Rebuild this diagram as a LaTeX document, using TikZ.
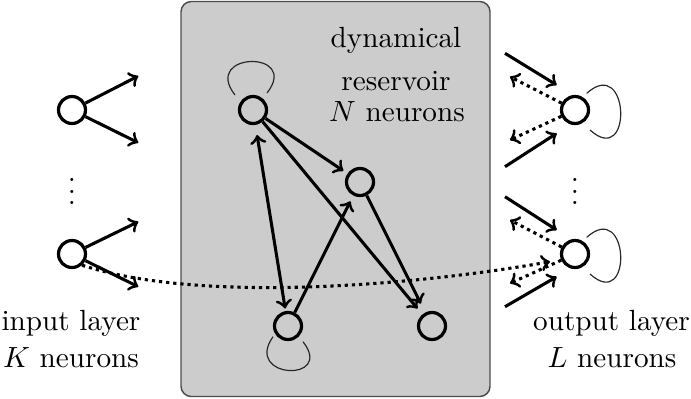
\documentclass[tikz,border=0pt]{standalone}
\usetikzlibrary{calc}
\begin{document}
\begin{tikzpicture}[x=0.3425pt,y=0.3425pt,
  neuron/.style={circle,draw,line width=1.1pt,minimum size=9.25pt,inner sep=0pt},
  conn/.style={line width=1.05pt,->,>=to},
  fb/.style={line width=1.05pt,->,>=to,dash pattern=on 1.1pt off 1.35pt},
  selfloop/.style={line width=0.4pt,black!85},
  lbl/.style={anchor=base,inner sep=0pt}]
\useasboundingbox (0,0) rectangle (691,398);
% reservoir box
\draw[fill=black!20,draw=black!70,line width=0.5pt,rounded corners=3.5pt] (181,1.5) rectangle (490,396.5);
% neurons
\node[neuron] (in1) at (72,288) {};
\node[neuron] (in2) at (72,144) {};
\node[neuron] (A) at (253,288) {};
\node[neuron] (B) at (360,216) {};
\node[neuron] (C) at (288,72) {};
\node[neuron] (D) at (432,72) {};
\node[neuron] (O1) at (575,288) {};
\node[neuron] (O2) at (575,144) {};
\node (vd1) at (72,215) {$\vdots$};
\node (vd2) at (575,215) {$\vdots$};
% free ends
\coordinate (i1a) at (138.3,322);
\coordinate (i1b) at (138.3,255.3);
\coordinate (i2a) at (138.3,176.3);
\coordinate (i2b) at (138.3,111.3);
\coordinate (s1a) at (505,344.7);
\coordinate (t1a) at (556.7,313);
\coordinate (s1b) at (505,231.3);
\coordinate (t1b) at (556.7,264.7);
\coordinate (f1a) at (510,321.3);
\coordinate (f1b) at (510,258);
\coordinate (s2a) at (505,201.3);
\coordinate (t2a) at (556.7,168);
\coordinate (f2a) at (510,178);
\coordinate (f2b) at (510,114.7);
\coordinate (s2b) at (505,91.3);
\coordinate (t2b) at (556.7,121.3);
\coordinate (dc) at (550,136.3);
% input connections
\draw[conn] (in1) -- (i1a);
\draw[conn] (in1) -- (i1b);
\draw[conn] (in2) -- (i2a);
\draw[conn] (in2) -- (i2b);
% reservoir connections
\draw[conn,shorten >=1.7pt] (A) -- (B);
\draw[conn,shorten >=2.6pt] (A) -- (D);
\draw[conn,shorten >=3.4pt] (B) -- (D);
\draw[conn,<->,shorten <=3.5pt,shorten >=0.9pt] (A) -- (C);
\draw[conn,shorten >=2.2pt] (C) -- (B);
% output connections
\draw[conn] (s1a) -- (t1a);
\draw[conn] (s1b) -- (t1b);
\draw[fb] (O1) -- (f1a);
\draw[fb] (O1) -- (f1b);
\draw[conn] (s2a) -- (t2a);
\draw[fb] (O2) -- (f2a);
\draw[fb] (O2) -- (f2b);
\draw[conn] (s2b) -- (t2b);
% dotted input to output
\draw[fb] (in2.-48) to[out=-18,in=190,looseness=0.7] (dc);
% self loops
\draw[selfloop] ([shift={(-18,15)}]A.center) .. controls +(128:55) and +(52:55) .. ([shift={(14,17)}]A.center);
\draw[selfloop] ([shift={(-15,-10.7)}]C.center) .. controls +(235:52) and +(-52:52) .. ([shift={(15,-15.7)}]C.center);
\draw[selfloop] ([shift={(11.7,16.7)}]O1.center) .. controls +(42:58) and +(-42:58) .. ([shift={(15,-20)}]O1.center);
\draw[selfloop] ([shift={(11.7,16.7)}]O2.center) .. controls +(42:58) and +(-42:58) .. ([shift={(15,-20)}]O2.center);
% labels
\node[lbl] (res1) at (396,351) {dynamical};
\node[lbl] (res2) at (396,307.5) {reservoir};
\node[lbl] (res3) at (397,276.3) {$N$ neurons};
\node[lbl] (inl1) at (71,68) {input layer};
\node[lbl] (inl2) at (71,31) {$K$ neurons};
\node[lbl] (outl1) at (611.5,68) {output layer};
\node[lbl] (outl2) at (612,31) {$L$ neurons};
\end{tikzpicture}
\end{document}
